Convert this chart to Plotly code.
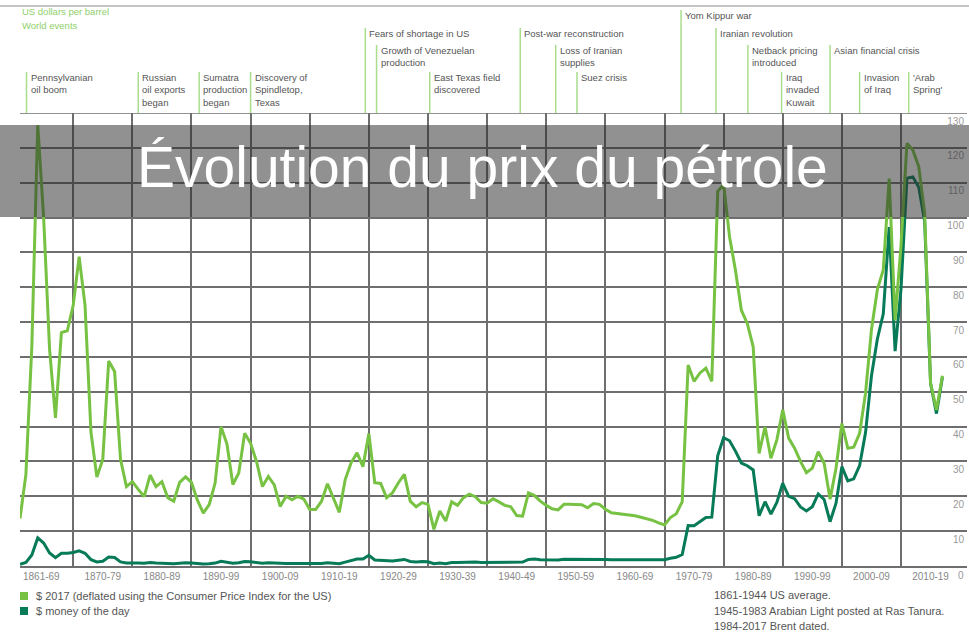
import plotly.graph_objects as go

# ---------------- data ----------------
years = list(range(1861, 2018))

real_2017 = [
    13.6, 26.3, 63.0, 126.5, 100.0, 62.2, 42.5, 67.0, 67.5,            # 1861-69
    74.8, 88.8, 74.8, 38.5, 25.5, 30.6, 58.8, 55.8, 30.6, 22.8,        # 1870-79
    24.2, 22.0, 19.9, 26.1, 22.8, 24.2, 19.6, 18.6, 24.0, 25.6,        # 1880-89
    24.0, 18.9, 15.2, 17.6, 23.8, 40.0, 35.0, 23.4, 26.7, 38.1,        # 1890-99
    35.2, 30.0, 22.8, 25.7, 23.3, 17.1, 20.0, 19.0, 20.0, 19.2,        # 1900-09
    16.2, 16.2, 18.6, 23.6, 19.5, 15.4, 24.8, 29.6, 32.5, 28.5,        # 1910-19
    38.0, 23.9, 23.7, 19.6, 21.0, 23.9, 26.3, 18.6, 17.0, 18.2,        # 1920-29
    17.7, 10.5, 15.8, 12.9, 18.4, 17.4, 19.6, 20.6, 19.9, 18.2,        # 1930-39
    18.0, 19.3, 18.4, 17.4, 17.0, 14.5, 14.3, 21.0, 20.2, 18.6,        # 1940-49
    17.4, 16.4, 16.1, 17.7, 17.7, 17.7, 17.6, 16.7, 17.9, 17.7,        # 1950-59
    16.3, 15.3, 15.1, 14.9, 14.7, 14.4, 14.0, 13.6, 13.1, 12.4,        # 1960-69
    11.8, 13.9, 15.0, 18.5, 57.7, 53.0, 55.4, 56.8, 53.0, 107.5,       # 1970-79
    109.5, 94.5, 84.9, 73.4, 69.6, 62.9, 32.3, 39.9, 30.9, 36.2,       # 1980-89
    44.8, 36.7, 33.8, 30.0, 26.8, 28.1, 32.8, 29.5, 19.2, 28.0,        # 1990-99
    40.9, 33.8, 34.1, 38.1, 49.6, 67.8, 79.3, 85.0, 111.2, 70.5,       # 2000-09
    92.0, 121.3, 119.4, 114.6, 101.2, 52.4, 44.8, 54.6,                # 2010-17
]

money_of_day = [
    0.49, 1.05, 3.15, 8.06, 6.59, 3.74, 2.41, 3.63, 3.64,              # 1861-69
    3.86, 4.34, 3.64, 1.83, 1.17, 1.35, 2.56, 2.42, 1.19, 0.86,        # 1870-79
    0.95, 0.86, 0.78, 1.00, 0.84, 0.88, 0.71, 0.67, 0.88, 0.94,        # 1880-89
    0.87, 0.67, 0.56, 0.64, 0.84, 1.36, 1.18, 0.79, 0.91, 1.29,        # 1890-99
    1.19, 0.96, 0.80, 0.94, 0.86, 0.62, 0.73, 0.72, 0.72, 0.70,        # 1900-09
    0.61, 0.61, 0.74, 0.95, 0.81, 0.64, 1.10, 1.56, 1.98, 2.01,        # 1910-19
    3.07, 1.73, 1.61, 1.34, 1.43, 1.68, 1.88, 1.30, 1.17, 1.27,        # 1920-29
    1.19, 0.65, 0.87, 0.67, 1.00, 0.97, 1.09, 1.18, 1.13, 1.02,        # 1930-39
    1.02, 1.14, 1.19, 1.20, 1.21, 1.05, 1.12, 1.90, 1.99, 1.78,        # 1940-49
    1.71, 1.71, 1.71, 1.93, 1.93, 1.93, 1.93, 1.90, 2.08, 2.08,        # 1950-59
    1.90, 1.80, 1.80, 1.80, 1.80, 1.80, 1.80, 1.80, 1.80, 1.80,        # 1960-69
    1.80, 2.24, 2.48, 3.29, 11.58, 11.53, 12.80, 13.92, 14.02, 31.61,  # 1970-79
    36.83, 35.93, 32.97, 29.55, 28.78, 27.56, 14.43, 18.44, 14.92, 18.23,  # 1980-89
    23.73, 20.00, 19.32, 16.97, 15.82, 17.02, 20.67, 19.09, 12.72, 17.97,  # 1990-99
    28.50, 24.44, 25.02, 28.83, 38.27, 54.52, 65.14, 72.39, 97.26, 61.67,  # 2000-09
    79.50, 111.26, 111.67, 108.66, 98.95, 52.39, 43.73, 54.19,             # 2010-17
]

decade_bounds = list(range(1870, 2020, 10))
decade_label_pos = [1864.6] + [d + 5 for d in range(1870, 2020, 10)]
decade_labels = ["1861-69", "1870-79", "1880-89", "1890-99", "1900-09", "1910-19",
                 "1920-29", "1930-39", "1940-49", "1950-59", "1960-69", "1970-79",
                 "1980-89", "1990-99", "2000-09", "2010-19"]
y_ticks = list(range(10, 140, 10))

event_labels = [
    "Pennsylvanian<br>oil boom", "Russian<br>oil exports<br>began",
    "Sumatra<br>production<br>began", "Discovery of<br>Spindletop,<br>Texas",
    "Fears of shortage in US", "Growth of Venezuelan<br>production",
    "East Texas field<br>discovered", "Post-war reconstruction",
    "Loss of Iranian<br>supplies", "Suez crisis", "Yom Kippur war",
    "Iranian revolution", "Netback pricing<br>introduced",
    "Iraq<br>invaded<br>Kuwait", "Asian financial crisis",
    "Invasion<br>of Iraq", "'Arab<br>Spring'",
]
event_years = [1862.1, 1881.0, 1891.3, 1900.0, 1919.4, 1921.3, 1930.3, 1945.6,
               1951.6, 1955.2, 1972.8, 1978.7, 1984.1, 1989.8, 1998.0, 2003.0, 2011.3]
event_tier = [3, 3, 3, 3, 1, 2, 3, 1, 2, 3, 0, 1, 2, 3, 2, 3, 3]

# ---------------- layout helpers ----------------
W, H = 969, 632
L, R, T, B = 20, 967, 113, 566
tier_top = [10, 28, 45, 72]


def px(x):
    return (x - L) / (R - L)


def py(y):
    return (B - y) / (B - T)


LIGHT = "#77c243"
DARK = "#077a57"
GRID = "#6e6e6e"
FONT = "Liberation Sans, Arial, sans-serif"

fig = go.Figure()
fig.add_trace(go.Scatter(x=years, y=money_of_day, mode="lines",
                         line=dict(color=DARK, width=3), name="$ money of the day",
                         showlegend=False))
fig.add_trace(go.Scatter(x=years, y=real_2017, mode="lines",
                         line=dict(color=LIGHT, width=3),
                         name="$ 2017 (deflated using the Consumer Price Index for the US)",
                         showlegend=False))

shapes = []
annotations = []

# top thin rule
shapes.append(dict(type="line", xref="paper", yref="paper", x0=px(0), x1=px(W),
                   y0=py(6), y1=py(6), line=dict(color="#8a8a8a", width=1)))
# top border at 130
shapes.append(dict(type="line", xref="paper", yref="y", x0=0, x1=1, y0=130, y1=130,
                   line=dict(color=GRID, width=1.5)))

# events
for lab, yr, tier in zip(event_labels, event_years, event_tier):
    top = tier_top[tier]
    shapes.append(dict(type="line", xref="x", yref="paper", x0=yr, x1=yr,
                       y0=1, y1=py(top), line=dict(color="#a9dd8c", width=1.5)))
    annotations.append(dict(text=lab, xref="x", yref="paper", x=yr, y=py(top - 2),
                            xanchor="left", yanchor="top", xshift=2, showarrow=False,
                            align="left", font=dict(family=FONT, size=9.5, color="#555555")))

annotations.append(dict(text="US dollars per barrel", xref="paper", yref="paper",
                        x=px(20), y=py(12), xanchor="left", yanchor="middle", showarrow=False,
                        font=dict(family=FONT, size=9.5, color="#8fd06c")))
annotations.append(dict(text="World events", xref="paper", yref="paper",
                        x=px(20), y=py(26), xanchor="left", yanchor="middle", showarrow=False,
                        font=dict(family=FONT, size=9.5, color="#8fd06c")))

# zero label of the value axis (sits below the axis line, level with decade labels)
annotations.append(dict(text="0", xref="paper", yref="y", x=1, y=0, xanchor="right",
                        yanchor="middle", yshift=-9, xshift=-1, showarrow=False,
                        font=dict(family=FONT, size=10, color="#999999")))

# title banner
shapes.append(dict(type="rect", xref="paper", yref="paper", x0=px(0), x1=px(W),
                   y0=py(217), y1=py(125), fillcolor="rgba(45,45,45,0.52)",
                   line=dict(width=0), layer="above"))
annotations.append(dict(text="Évolution du prix du pétrole", xref="paper", yref="paper",
                        x=px(482), y=py(167), xanchor="center", yanchor="middle",
                        showarrow=False, font=dict(family=FONT, size=57, color="white")))

# legend
legend_items = [("$ 2017 (deflated using the Consumer Price Index for the US)", LIGHT, 596),
                ("$ money of the day", DARK, 611)]
for txt, col, yc in legend_items:
    shapes.append(dict(type="rect", xref="paper", yref="paper", x0=px(20), x1=px(28),
                       y0=py(yc + 4), y1=py(yc - 4), fillcolor=col, line=dict(width=0)))
    annotations.append(dict(text=txt, xref="paper", yref="paper", x=px(34), y=py(yc),
                            xanchor="left", yanchor="middle", showarrow=False,
                            font=dict(family=FONT, size=11, color="#555555")))

notes = ["1861-1944 US average.", "1945-1983 Arabian Light posted at Ras Tanura.",
         "1984-2017 Brent dated."]
for i, n in enumerate(notes):
    annotations.append(dict(text=n, xref="paper", yref="paper", x=px(712), y=py(595 + 15.5 * i),
                            xanchor="left", yanchor="middle", showarrow=False,
                            font=dict(family=FONT, size=11, color="#555555")))

fig.update_layout(
    width=W, height=H,
    margin=dict(l=L, r=W - R, t=T, b=H - B),
    paper_bgcolor="white", plot_bgcolor="white",
    showlegend=False,
    shapes=shapes, annotations=annotations,
    font=dict(family=FONT),
    xaxis=dict(
        range=[1861, 2021.16], tickmode="array", tickvals=decade_label_pos,
        ticktext=decade_labels, showgrid=False, ticks="", zeroline=False,
        showline=True, linecolor=GRID, linewidth=2,
        tickfont=dict(size=10, color="#888888"),
        minor=dict(tickmode="array", tickvals=decade_bounds, showgrid=True,
                   gridcolor=GRID, gridwidth=1.5, ticks=""),
    ),
    yaxis=dict(
        range=[0, 130], side="right", tickmode="array", tickvals=y_ticks,
        showgrid=True, gridcolor=GRID, gridwidth=1.5, zeroline=False, ticks="",
        ticklabelposition="inside", ticklabelshift=8, automargin=False,
        tickfont=dict(size=10, color="#999999"),
    ),
)

fig.write_html("out.html", config={"displayModeBar": False},
               post_script="document.body.style.margin='0px';document.body.style.padding='0px';")
